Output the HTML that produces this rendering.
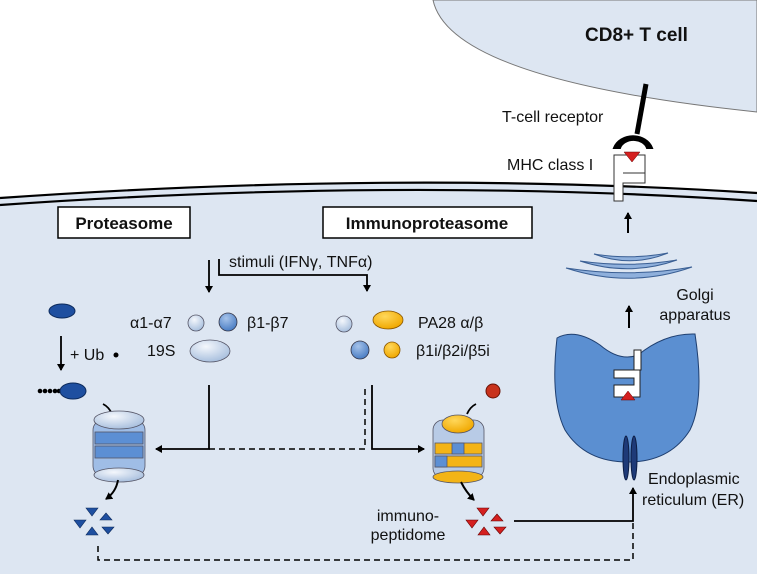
<!DOCTYPE html>
<html><head><meta charset="utf-8"><style>
html,body{margin:0;padding:0;background:#fff}
svg{display:block}
text{font-family:"Liberation Sans",sans-serif;fill:#111}
</style></head><body>
<svg width="757" height="574" viewBox="0 0 757 574" xmlns="http://www.w3.org/2000/svg">
<defs>
<marker id="ar" markerWidth="8" markerHeight="8" refX="6" refY="4" orient="auto" markerUnits="userSpaceOnUse"><path d="M0,0 L7,4 L0,8 z" fill="#000"/></marker>
<radialGradient id="lb" cx="40%" cy="30%" r="70%"><stop offset="0" stop-color="#f4f7fc"/><stop offset="1" stop-color="#a9c0de"/></radialGradient>
<radialGradient id="mb" cx="40%" cy="30%" r="70%"><stop offset="0" stop-color="#a6c3ea"/><stop offset="1" stop-color="#4b7ec4"/></radialGradient>
<radialGradient id="or" cx="40%" cy="30%" r="70%"><stop offset="0" stop-color="#ffd75a"/><stop offset="1" stop-color="#f0a800"/></radialGradient>
</defs>
<path d="M0,198 Q400,170 757,193 L757,574 L0,574 Z" fill="#dde6f2"/>
<path d="M0,198 Q400,170 757,193" fill="none" stroke="#000" stroke-width="2.2"/>
<path d="M0,205 Q400,177 757,201" fill="none" stroke="#000" stroke-width="2.2"/>
<path d="M433,0 Q450,80 757,112 L757,0 Z" fill="#dde6f2" stroke="#777" stroke-width="1"/>
<text x="585" y="41" font-size="19" font-weight="bold">CD8+ T cell</text>
<line x1="646" y1="84" x2="637" y2="134" stroke="#000" stroke-width="5"/>
<path d="M614,148 A20,17 0 0 1 652,148 L647,148 A14,11 0 0 0 620,148 Z" fill="#000" stroke="#000" stroke-width="2"/>
<text x="502" y="122" font-size="16">T-cell receptor</text>
<text x="507" y="170" font-size="16">MHC class I</text>
<path d="M614,155 L645,155 L645,183 L623,183 L623,201 L614,201 Z" fill="#fff" stroke="#333" stroke-width="1"/>
<path d="M623,173 L645,173" stroke="#333" stroke-width="1"/>
<path d="M624,152 L640,152 L632,162 Z" fill="#d42020" stroke="#600" stroke-width="0.5"/>
<line x1="628" y1="233" x2="628" y2="213" stroke="#000" stroke-width="2" marker-end="url(#ar)"/>
<g fill="#8fb0dc" stroke="#3a5f94" stroke-width="1">
<path d="M594,254 Q631,260 668,253 Q631,268 594,254 Z"/>
<path d="M580,261 Q629,268 677,260 Q629,277 580,261 Z"/>
<path d="M566,268 Q630,278 692,267 Q630,289 566,268 Z"/>
</g>
<line x1="629" y1="328" x2="629" y2="306" stroke="#000" stroke-width="2" marker-end="url(#ar)"/>
<text x="695" y="300" font-size="16" text-anchor="middle">Golgi</text>
<text x="695" y="320" font-size="16" text-anchor="middle">apparatus</text>
<path d="M557,338 Q575,328 600,345 Q620,362 638,355 Q665,333 695,334 Q705,400 690,430 Q670,462 628,462 Q585,462 565,430 Q550,400 557,338 Z" fill="#5b8fd1" stroke="#1f3f70" stroke-width="1"/>
<path d="M614,370 L640,370 L640,397 L614,397 L614,385 L634,385 L634,378 L614,378 Z" fill="#fff" stroke="#222" stroke-width="1"/>
<path d="M634,350 L641,350 L641,370 L634,370 Z" fill="#fff" stroke="#222" stroke-width="1"/>
<path d="M628,391 L621,400 L635,400 Z" fill="#d42020" stroke="#600" stroke-width="0.5"/>
<ellipse cx="626" cy="458" rx="3" ry="22" fill="#1e3a78" stroke="#0c1d44"/>
<ellipse cx="634" cy="458" rx="3" ry="22" fill="#1e3a78" stroke="#0c1d44"/>
<text x="648" y="484" font-size="16">Endoplasmic</text>
<text x="642" y="505" font-size="16">reticulum (ER)</text>
<rect x="58" y="207" width="132" height="31" fill="#fff" stroke="#000" stroke-width="1.5"/>
<text x="124" y="229" font-size="17" font-weight="bold" text-anchor="middle">Proteasome</text>
<rect x="323" y="207" width="209" height="31" fill="#fff" stroke="#000" stroke-width="1.5"/>
<text x="427" y="229" font-size="17" font-weight="bold" text-anchor="middle">Immunoproteasome</text>
<text x="229" y="267" font-size="16">stimuli (IFNγ, TNFα)</text>
<line x1="209" y1="260" x2="209" y2="292" stroke="#000" stroke-width="1.8" marker-end="url(#ar)"/>
<path d="M219,259 L219,275 L367,275 L367,291" fill="none" stroke="#000" stroke-width="1.8" marker-end="url(#ar)"/>
<text x="130" y="328" font-size="16">α1-α7</text>
<circle cx="196" cy="323" r="8" fill="url(#lb)" stroke="#556" stroke-width="0.8"/>
<circle cx="228" cy="322" r="9" fill="url(#mb)" stroke="#334" stroke-width="0.8"/>
<text x="247" y="328" font-size="16">β1-β7</text>
<text x="147" y="356" font-size="16">19S</text>
<ellipse cx="210" cy="351" rx="20" ry="11" fill="url(#lb)" stroke="#556" stroke-width="0.8"/>
<circle cx="344" cy="324" r="8" fill="url(#lb)" stroke="#556" stroke-width="0.8"/>
<ellipse cx="388" cy="320" rx="15" ry="9" fill="url(#or)" stroke="#885500" stroke-width="0.8"/>
<text x="418" y="328" font-size="16">PA28 α/β</text>
<circle cx="360" cy="350" r="9" fill="url(#mb)" stroke="#334" stroke-width="0.8"/>
<circle cx="392" cy="350" r="8" fill="url(#or)" stroke="#885500" stroke-width="0.8"/>
<text x="416" y="356" font-size="16">β1i/β2i/β5i</text>
<ellipse cx="62" cy="311" rx="13" ry="7" fill="#1e4fa0" stroke="#0c2a5c"/>
<line x1="61" y1="336" x2="61" y2="370" stroke="#000" stroke-width="1.8" marker-end="url(#ar)"/>
<text x="70" y="360" font-size="16">+ Ub</text>
<circle cx="116" cy="355" r="2.5" fill="#000"/>
<g fill="#000"><circle cx="40" cy="391" r="2.3"/><circle cx="45" cy="391" r="2.3"/><circle cx="50" cy="391" r="2.3"/><circle cx="55" cy="391" r="2.3"/><circle cx="59" cy="391" r="2.3"/></g>
<ellipse cx="73" cy="391" rx="13" ry="8" fill="#1e4fa0" stroke="#0c2a5c"/>
<path d="M209,385 L209,449 L156,449" fill="none" stroke="#000" stroke-width="1.8" marker-end="url(#ar)"/>
<path d="M209,449 L365,449 L365,385" fill="none" stroke="#000" stroke-width="1.5" stroke-dasharray="6,4"/>
<path d="M372,385 L372,449 L424,449" fill="none" stroke="#000" stroke-width="1.8" marker-end="url(#ar)"/>
<path d="M103,404 Q109,407 112,414" fill="none" stroke="#000" stroke-width="1.8"/>
<g stroke="#556" stroke-width="0.8">
<rect x="93" y="420" width="52" height="56" rx="10" fill="#9fbde6"/>
<rect x="95" y="432" width="48" height="12" fill="#5c8fd4"/>
<rect x="95" y="446" width="48" height="12" fill="#5c8fd4"/>
<ellipse cx="119" cy="475" rx="25" ry="7" fill="url(#lb)"/>
<ellipse cx="119" cy="420" rx="25" ry="9" fill="url(#lb)"/>
</g>
<path d="M118,480 Q116,492 106,499" fill="none" stroke="#000" stroke-width="2" marker-end="url(#ar)"/>
<g fill="#1e4fa0" stroke="#0c2a5c" stroke-width="0.6">
<path d="M86,508 L98,508 L92,516 Z"/><path d="M100,520 L112,520 L106,513 Z"/>
<path d="M74,520 L86,520 L80,528 Z"/><path d="M86,535 L98,535 L92,527 Z"/>
<path d="M102,527 L114,527 L108,534 Z"/>
</g>
<circle cx="493" cy="391" r="7" fill="#c8321c" stroke="#6a1206"/>
<path d="M476,404 Q470,407 467,414" fill="none" stroke="#000" stroke-width="1.8"/>
<g stroke="#556" stroke-width="0.8">
<rect x="433" y="420" width="51" height="58" rx="10" fill="#b8cbe6"/>
<rect x="435" y="443" width="47" height="11" fill="#f3b416"/>
<rect x="435" y="456" width="47" height="11" fill="#f3b416"/>
<rect x="452" y="443" width="12" height="11" fill="#5c8fd4"/>
<rect x="435" y="456" width="12" height="11" fill="#5c8fd4"/>
<ellipse cx="458" cy="477" rx="25" ry="6" fill="#f3b416"/>
<ellipse cx="458" cy="424" rx="16" ry="9" fill="url(#or)"/>
</g>
<path d="M461,482 Q466,492 474,500" fill="none" stroke="#000" stroke-width="2" marker-end="url(#ar)"/>
<text x="408" y="521" font-size="16" text-anchor="middle">immuno-</text>
<text x="408" y="540" font-size="16" text-anchor="middle">peptidome</text>
<g fill="#d42020" stroke="#600" stroke-width="0.6">
<path d="M477,508 L489,508 L483,516 Z"/><path d="M491,521 L503,521 L497,514 Z"/>
<path d="M466,520 L478,520 L472,528 Z"/><path d="M478,535 L490,535 L484,527 Z"/>
<path d="M494,527 L506,527 L500,534 Z"/>
</g>
<path d="M514,521 L633,521 L633,488" fill="none" stroke="#000" stroke-width="1.8" marker-end="url(#ar)"/>
<path d="M633,523 L633,560 L98,560 L98,543" fill="none" stroke="#000" stroke-width="1.5" stroke-dasharray="6,4"/>
</svg>
</body></html>
